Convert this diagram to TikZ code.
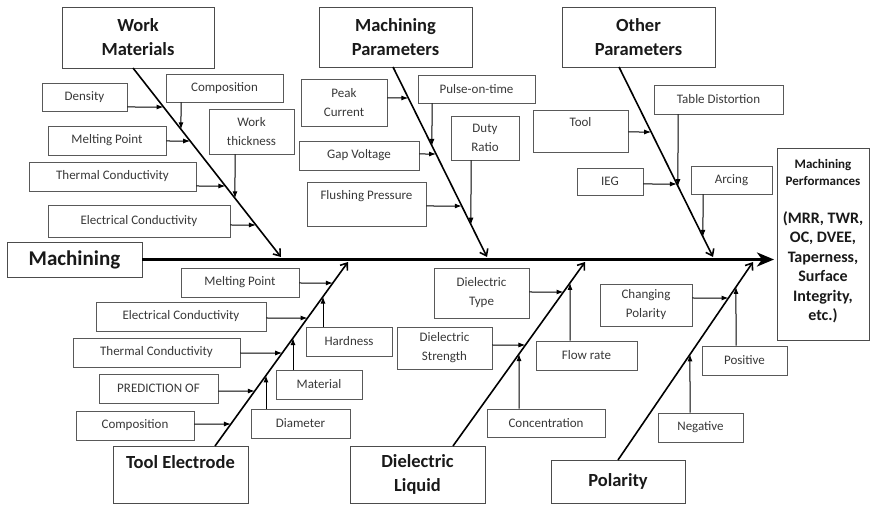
\documentclass[tikz,border=0pt]{standalone}
\usepackage{fontspec}
\setmainfont{Carlito}
\usetikzlibrary{arrows.meta}

\tikzset{
  cause/.style={draw=black!65, line width=0.8pt, text=black!78, inner sep=0pt,
    align=center, font=\fontsize{13}{19}\selectfont},
  cat/.style={draw=black!70, line width=0.9pt, text=black!90, inner sep=0pt,
    align=center, font=\bfseries\fontsize{18.5}{24}\selectfont},
  spine/.style={line width=3.5pt, -{Stealth[length=17pt,width=14pt,inset=5pt]}},
  bone/.style={line width=1.6pt, -{Straight Barb[length=6pt,width=9pt]}},
  arr/.style={line width=1pt, -{Latex[length=7pt,width=5pt]}},
}

\begin{document}
\begin{tikzpicture}[x=1pt,y=-1pt]
    \useasboundingbox (0,0) rectangle (871,505);
    % head and tail
    \node[cat, minimum width=135, minimum height=35, font=\bfseries\fontsize{21}{24}\selectfont] (mach) at (74.5,259.5) {Machining};
    \node[cat, minimum width=92, minimum height=192, font=\bfseries\fontsize{16}{19.5}\selectfont] (res) at (823,244)
        {{\fontsize{13}{17}\selectfont Machining}\\[-2.5pt]{\fontsize{13}{17}\selectfont Performances}\\[18pt](MRR, TWR,\\OC, DVEE,\\Taperness,\\Surface\\Integrity,\\etc.)\\[-12pt]\mbox{}};
    \coordinate (spineEnd) at (774,259.5);
    \draw[spine] (mach.east) -- (spineEnd);

    % categories
    \node[cat, minimum width=152, minimum height=61] (wm) at (138,37.5) {Work\\Materials};
    \node[cat, minimum width=153, minimum height=60] (mp) at (395.5,37) {Machining\\Parameters};
    \node[cat, minimum width=153, minimum height=60] (op) at (638.5,37) {Other\\Parameters};
    \node[cat, minimum width=135, minimum height=57] (te) at (180.5,474.5) {Tool Electrode\\~};
    \node[cat, minimum width=135, minimum height=57] (dl) at (417.5,474.5) {Dielectric\\Liquid};
    \node[cat, minimum width=134, minimum height=43] (pol) at (618,481.5) {Polarity};

    % bones
    \coordinate (wmA) at (133,68);  \coordinate (wmB) at (281,257);
    \coordinate (mpA) at (393,67);  \coordinate (mpB) at (487,257);
    \coordinate (opA) at (619,67);  \coordinate (opB) at (713,257);
    \coordinate (teA) at (215,446); \coordinate (teB) at (348,262);
    \coordinate (dlA) at (453,446); \coordinate (dlB) at (585,262);
    \coordinate (polA) at (618,460); \coordinate (polB) at (753,262);
    \foreach \b in {wm,mp,op,te,dl,pol}
        \draw[bone] (\b A) -- (\b B);

    % work materials
    \node[cause, minimum width=85, minimum height=28] (dens) at (84.5,97) {Density};
    \node[cause, minimum width=117, minimum height=28] (comp) at (224.5,88) {Composition};
    \node[cause, minimum width=118, minimum height=29] (melt) at (107,140.5) {Melting Point};
    \node[cause, minimum width=85, minimum height=45] (thick) at (251.5,131.5) {Work\\thickness};
    \node[cause, minimum width=167, minimum height=29] (therm) at (112.5,176.5) {Thermal Conductivity};
    \node[cause, minimum width=182, minimum height=32] (elec) at (139,221) {Electrical Conductivity};
    \draw[arr] (dens.east |- 0,107) -- (intersection of wmA--wmB and 0,107--1,107);
    \draw[arr] (melt.east |- 0,141) -- (intersection of wmA--wmB and 0,141--1,141);
    \draw[arr] (therm.east |- 0,186) -- (intersection of wmA--wmB and 0,186--1,186);
    \draw[arr] (elec.east |- 0,225) -- (intersection of wmA--wmB and 0,225--1,225);
    \draw[arr] (comp.south -| 181,0) -- (intersection of wmA--wmB and 181,0--181,1);
    \draw[arr] (thick.south -| 235,0) -- (intersection of wmA--wmB and 235,0--235,1);

    % machining parameters
    \node[cause, minimum width=86, minimum height=47] (peak) at (344,102.5) {Peak\\Current};
    \node[cause, minimum width=117, minimum height=28] (pulse) at (476.5,89) {Pulse-on-time};
    \node[cause, minimum width=120, minimum height=29] (gap) at (359,155.5) {Gap Voltage};
    \node[cause, minimum width=68, minimum height=44] (duty) at (485,138) {Duty\\Ratio};
    \node[cause, minimum width=119, minimum height=44] (flush) at (366.5,204) {Flushing Pressure\\~};
    \draw[arr] (peak.east |- 0,98) -- (intersection of mpA--mpB and 0,98--1,98);
    \draw[arr] (gap.east |- 0,154) -- (intersection of mpA--mpB and 0,154--1,154);
    \draw[arr] (flush.east |- 0,206) -- (intersection of mpA--mpB and 0,206--1,206);
    \draw[arr] (pulse.south -| 432,0) -- (intersection of mpA--mpB and 432,0--432,1);
    \draw[arr] (duty.south -| 471,0) -- (intersection of mpA--mpB and 471,0--471,1);

    % other parameters
    \node[cause, minimum width=95, minimum height=42] (tool) at (580.5,131) {Tool\\~};
    \node[cause, minimum width=129, minimum height=29] (table) at (718.5,99.5) {Table Distortion};
    \node[cause, minimum width=66, minimum height=27] (ieg) at (610,181.5) {IEG};
    \node[cause, minimum width=81, minimum height=28] (arc) at (731.5,180) {Arcing};
    \draw[arr] (tool.east |- 0,132) -- (intersection of opA--opB and 0,132--1,132);
    \draw[arr] (ieg.east |- 0,184) -- (intersection of opA--opB and 0,184--1,184);
    \draw[arr] (table.south -| 678,0) -- (intersection of opA--opB and 678,0--678,1);
    \draw[arr] (arc.south -| 703,0) -- (intersection of opA--opB and 703,0--703,1);

    % tool electrode
    \node[cause, minimum width=118, minimum height=29] (tmelt) at (240,282.5) {Melting Point};
    \node[cause, minimum width=170, minimum height=29] (telec) at (181,316.5) {Electrical Conductivity};
    \node[cause, minimum width=86, minimum height=29] (hard) at (349,341.5) {Hardness};
    \node[cause, minimum width=167, minimum height=29] (ttherm) at (156.5,352.5) {Thermal Conductivity};
    \node[cause, minimum width=119, minimum height=29] (pred) at (158.5,388.5) {PREDICTION OF};
    \node[cause, minimum width=86, minimum height=29] (mat) at (319,384.5) {Material};
    \node[cause, minimum width=118, minimum height=29] (tcomp) at (135,425.5) {Composition};
    \node[cause, minimum width=99, minimum height=29] (diam) at (300.5,423.5) {Diameter};
    \draw[arr] (tmelt.east |- 0,283) -- (intersection of teA--teB and 0,283--1,283);
    \draw[arr] (telec.east |- 0,318) -- (intersection of teA--teB and 0,318--1,318);
    \draw[arr] (ttherm.east |- 0,353) -- (intersection of teA--teB and 0,353--1,353);
    \draw[arr] (pred.east |- 0,391) -- (intersection of teA--teB and 0,391--1,391);
    \draw[arr] (tcomp.east |- 0,424) -- (intersection of teA--teB and 0,424--1,424);
    \draw[arr] (hard.north -| 323,0) -- (intersection of teA--teB and 323,0--323,1);
    \draw[arr] (mat.north -| 293,0) -- (intersection of teA--teB and 293,0--293,1);
    \draw[arr] (diam.north -| 266,0) -- (intersection of teA--teB and 266,0--266,1);

    % dielectric liquid
    \node[cause, minimum width=95, minimum height=50] (dtype) at (481.5,293) {Dielectric\\Type};
    \node[cause, minimum width=95, minimum height=42] (dstr) at (444.5,348) {Dielectric\\Strength};
    \node[cause, minimum width=101, minimum height=29] (flow) at (586.5,355.5) {Flow rate};
    \node[cause, minimum width=118, minimum height=28] (conc) at (546,423) {Concentration};
    \draw[arr] (dtype.east |- 0,292) -- (intersection of dlA--dlB and 0,292--1,292);
    \draw[arr] (dstr.east |- 0,345) -- (intersection of dlA--dlB and 0,345--1,345);
    \draw[arr] (flow.north -| 570,0) -- (intersection of dlA--dlB and 570,0--570,1);
    \draw[arr] (conc.north -| 519,0) -- (intersection of dlA--dlB and 519,0--519,1);

    % polarity
    \node[cause, minimum width=92, minimum height=42] (chg) at (646,305) {Changing\\Polarity};
    \node[cause, minimum width=85, minimum height=29] (pos) at (744.5,360.5) {Positive};
    \node[cause, minimum width=85, minimum height=29] (neg) at (700.5,427.5) {Negative};
    \draw[arr] (chg.east |- 0,298) -- (intersection of polA--polB and 0,298--1,298);
    \draw[arr] (pos.north -| 736,0) -- (intersection of polA--polB and 736,0--736,1);
    \draw[arr] (neg.north -| 690,0) -- (intersection of polA--polB and 690,0--690,1);
\end{tikzpicture}
\end{document}
